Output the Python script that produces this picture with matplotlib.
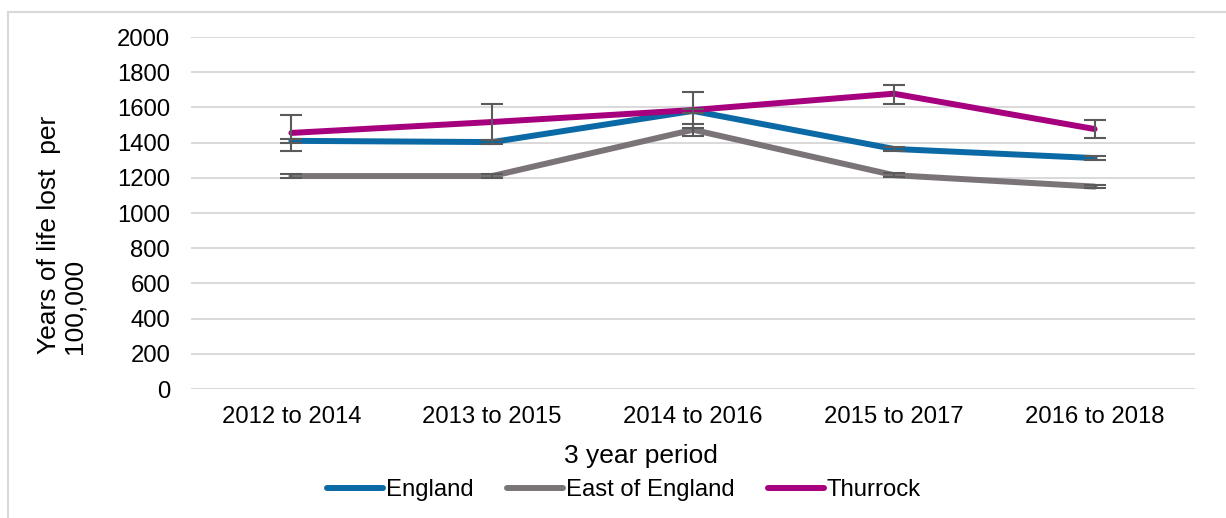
import matplotlib
matplotlib.use("Agg")
import matplotlib.pyplot as plt
from matplotlib.lines import Line2D

periods = ["2012 to 2014", "2013 to 2015", "2014 to 2016", "2015 to 2017", "2016 to 2018"]
england = [1410, 1403, 1580, 1364, 1312]
england_lo = [1400, 1393, 1570, 1354, 1302]
england_hi = [1420, 1413, 1590, 1374, 1322]
east = [1210, 1210, 1473, 1215, 1150]
east_lo = [1200, 1200, 1437, 1205, 1140]
east_hi = [1220, 1220, 1505, 1225, 1160]
thurrock = [1455, 1517, 1585, 1678, 1477]
thurrock_lo = [1352, 1415, 1483, 1619, 1426]
thurrock_hi = [1557, 1619, 1687, 1727, 1528]
yticks = [0, 200, 400, 600, 800, 1000, 1200, 1400, 1600, 1800, 2000]

plt.rcParams['font.family'] = ['Liberation Sans', 'DejaVu Sans']

W, H = 1226, 518
fig = plt.figure(figsize=(W / 100, H / 100), dpi=100)
ax = fig.add_axes([191 / W, 1 - 389 / H, (1195 - 191) / W, (389 - 37) / H])

x = list(range(len(periods)))
series = [
    ("England", england, england_lo, england_hi, "#0B6AA5"),
    ("East of England", east, east_lo, east_hi, "#7A7479"),
    ("Thurrock", thurrock, thurrock_lo, thurrock_hi, "#A6007E"),
]
for name, vals, lo, hi, col in series:
    ax.plot(x, vals, color=col, lw=4.3, label=name, solid_capstyle='round', zorder=3)
for name, vals, lo, hi, col in series:
    yerr = [[v - l for v, l in zip(vals, lo)], [h - v for v, h in zip(vals, hi)]]
    ax.errorbar(x, vals, yerr=yerr, fmt='none', ecolor='#5A5A5A', elinewidth=1.5,
                capsize=8, capthick=1.5, zorder=4)

ax.set_xlim(-0.5, 4.5)
ax.set_ylim(0, 2000)
ax.set_yticks(yticks)
ax.set_xticks(x)
ax.set_xticklabels(periods)
ax.grid(axis='y', color='#D9D9D9', lw=1.4)
ax.set_axisbelow(True)
for s in ax.spines.values():
    s.set_visible(False)
ax.tick_params(axis='both', length=0, labelsize=17.2, colors='black')
ax.tick_params(axis='y', pad=15)
ax.tick_params(axis='x', pad=12)

fig.text(641 / W, 1 - 456 / H, "3 year period", ha='center', va='center', fontsize=19)
fig.text(62 / W, 1 - 354 / H, "Years of life lost  per\n100,000", ha='center', va='bottom',
         rotation=90, fontsize=19, multialignment='left', linespacing=1.1)

fig.legend(loc='center', bbox_to_anchor=(624 / W, 1 - 490 / H), ncol=3, frameon=False,
           fontsize=17.2, handlelength=2.33, handletextpad=0.13, columnspacing=1.4)

# outer border (top and left visible)
fig.add_artist(Line2D([7.5 / W, 7.5 / W], [0, 1 - 12 / H], transform=fig.transFigure,
                      color='#D9D9D9', lw=1.5))
fig.add_artist(Line2D([7.5 / W, 1], [1 - 12 / H, 1 - 12 / H], transform=fig.transFigure,
                      color='#D9D9D9', lw=1.5))

fig.savefig("out.png", dpi=100, facecolor='white')
